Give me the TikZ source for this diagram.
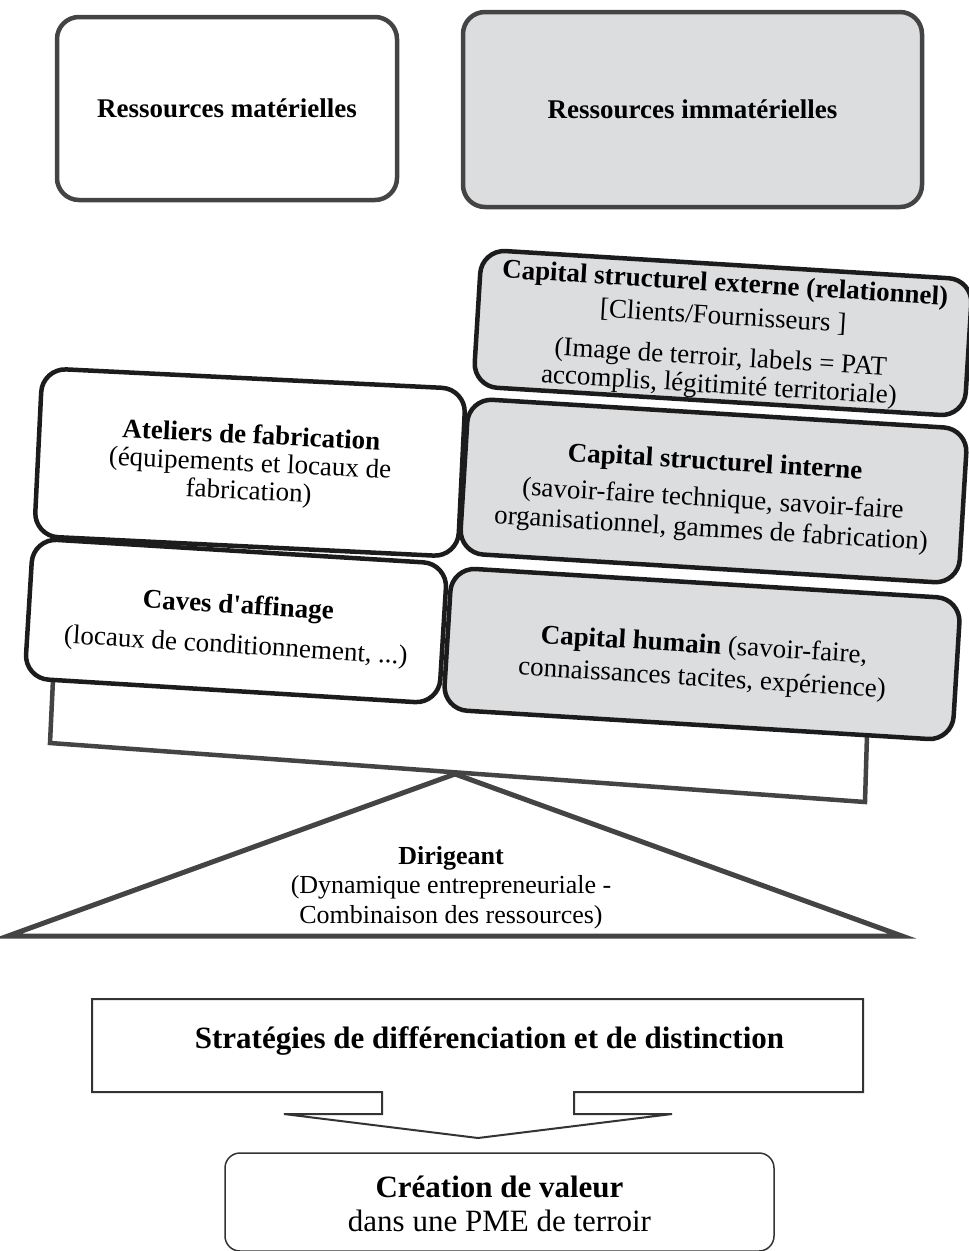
\documentclass[tikz,border=0pt]{standalone}
\usepackage{fontspec}
\setmainfont{Liberation Serif}
\definecolor{boxgray}{RGB}{220,221,223}
\definecolor{edgegray}{RGB}{68,68,68}
\definecolor{darkedge}{RGB}{28,28,28}
\begin{document}
\begin{tikzpicture}[x=1pt,y=-1pt,
  topbox/.style={draw=edgegray, line width=4.5pt, rounded corners=22pt, inner sep=0pt,
    font=\fontsize{27}{30}\selectfont\bfseries},
  midbox/.style={draw=darkedge, line width=4.5pt, rounded corners=24pt, inner sep=0pt},
  midtext/.style={align=center, inner sep=0pt, font=\fontsize{27}{28}\selectfont},
  graybox/.style={fill=boxgray},
  whitebox/.style={fill=white},
  balance/.style={draw=edgegray, line width=4.5pt, line join=miter},
  flowline/.style={draw=black!80, line width=2pt, line join=miter},
  plaintext/.style={align=center, inner sep=0pt}
]
\useasboundingbox (0,0) rectangle (969,1251);

% balance beam (tray)
\coordinate (bl0) at (53,680);
\coordinate (bl1) at (50,743);
\coordinate (br1) at (865,802);
\coordinate (br0) at (867,735);
\draw[balance] (bl0) -- (bl1) -- (br1) -- (br0);

% pivot triangle
\coordinate (apex) at (455,774);
\coordinate (tl) at (8,936);
\coordinate (tr) at (902,936);
\draw[balance, line width=5pt] (apex) -- (tr) -- (tl) -- cycle;

% top boxes
\node[topbox, minimum width=340pt, minimum height=183pt] (mat) at (227,108.5) {Ressources matérielles};
\node[topbox, fill=boxgray, minimum width=459pt, minimum height=195pt] (immat) at (692.5,109.5) {Ressources immatérielles};

% immaterial resources
\node[midbox, graybox, rotate=-3.5, minimum width=510pt, minimum height=142pt] (hum) at (702,654) {};
\node[midtext, rotate=-3.5] (humtxt) at (703,663)
  {\textbf{Capital humain} (savoir-faire,\\[5pt] connaissances tacites, expérience)};
\node[midbox, graybox, rotate=-3.5, minimum width=500pt, minimum height=155pt] (int) at (713.5,491) {};
\node[midtext, rotate=-3.5, font=\fontsize{27}{30}\selectfont] (inttxt) at (713,497)
  {\textbf{Capital structurel interne}\\[7pt] (savoir-faire technique, savoir-faire\\ organisationnel, gammes de fabrication)};
\node[midbox, graybox, rotate=-3.5, minimum width=492pt, minimum height=137pt] (ext) at (723,333) {};
\node[midtext, rotate=-3.5] (exttxt) at (722,336)
  {\textbf{Capital structurel externe (relationnel)}\\[5pt] {[}Clients/Fournisseurs {]}\\[13pt] (Image de terroir, labels = PAT\\ accomplis, légitimité territoriale)};

% material resources
\node[midbox, whitebox, rotate=-3.5, minimum width=415pt, minimum height=140pt] (cav) at (236,621) {};
\node[midtext, rotate=-3.5] (cavtxt) at (237,627)
  {\textbf{Caves d\textquotesingle affinage}\\[12pt] (locaux de conditionnement, ...)};
\node[midbox, whitebox, rotate=-2.8, minimum width=424pt, minimum height=168pt] (ate) at (250,462.5) {};
\node[midtext, rotate=-2.8] (atetxt) at (250,465)
  {\textbf{Ateliers de fabrication}\\ (équipements et locaux de\\ fabrication)};

% leader
\node[plaintext, font=\fontsize{26}{29.5}\selectfont] (dir) at (451,887.5)
  {\textbf{Dirigeant}\\ (Dynamique entrepreneuriale -\\ Combinaison des ressources)};

% strategies arrow box
\coordinate (s1) at (92,999);
\coordinate (s2) at (863,999);
\coordinate (s3) at (863,1092);
\coordinate (s4) at (574,1092);
\coordinate (s5) at (574,1114);
\coordinate (s6) at (672,1114);
\coordinate (s7) at (478,1138);
\coordinate (s8) at (284,1114);
\coordinate (s9) at (382,1114);
\coordinate (s10) at (382,1092);
\coordinate (s11) at (92,1092);
\draw[flowline] (s1) -- (s2) -- (s3) -- (s4) -- (s5) -- (s6) -- (s7) -- (s8) -- (s9) -- (s10) -- (s11) -- cycle;
\node[plaintext, font=\fontsize{31}{36}\selectfont\bfseries] (strat) at (489.5,1041)
  {Stratégies de différenciation et de distinction};

% value creation
\node[draw=black!80, line width=1.5pt, rounded corners=15pt, minimum width=549pt, minimum height=98pt] (cre) at (499.5,1202) {};
\node[plaintext, font=\fontsize{31}{34}\selectfont] (cretxt) at (499.5,1204)
  {\textbf{Création de valeur}\\ dans une PME de terroir};
\end{tikzpicture}
\end{document}
